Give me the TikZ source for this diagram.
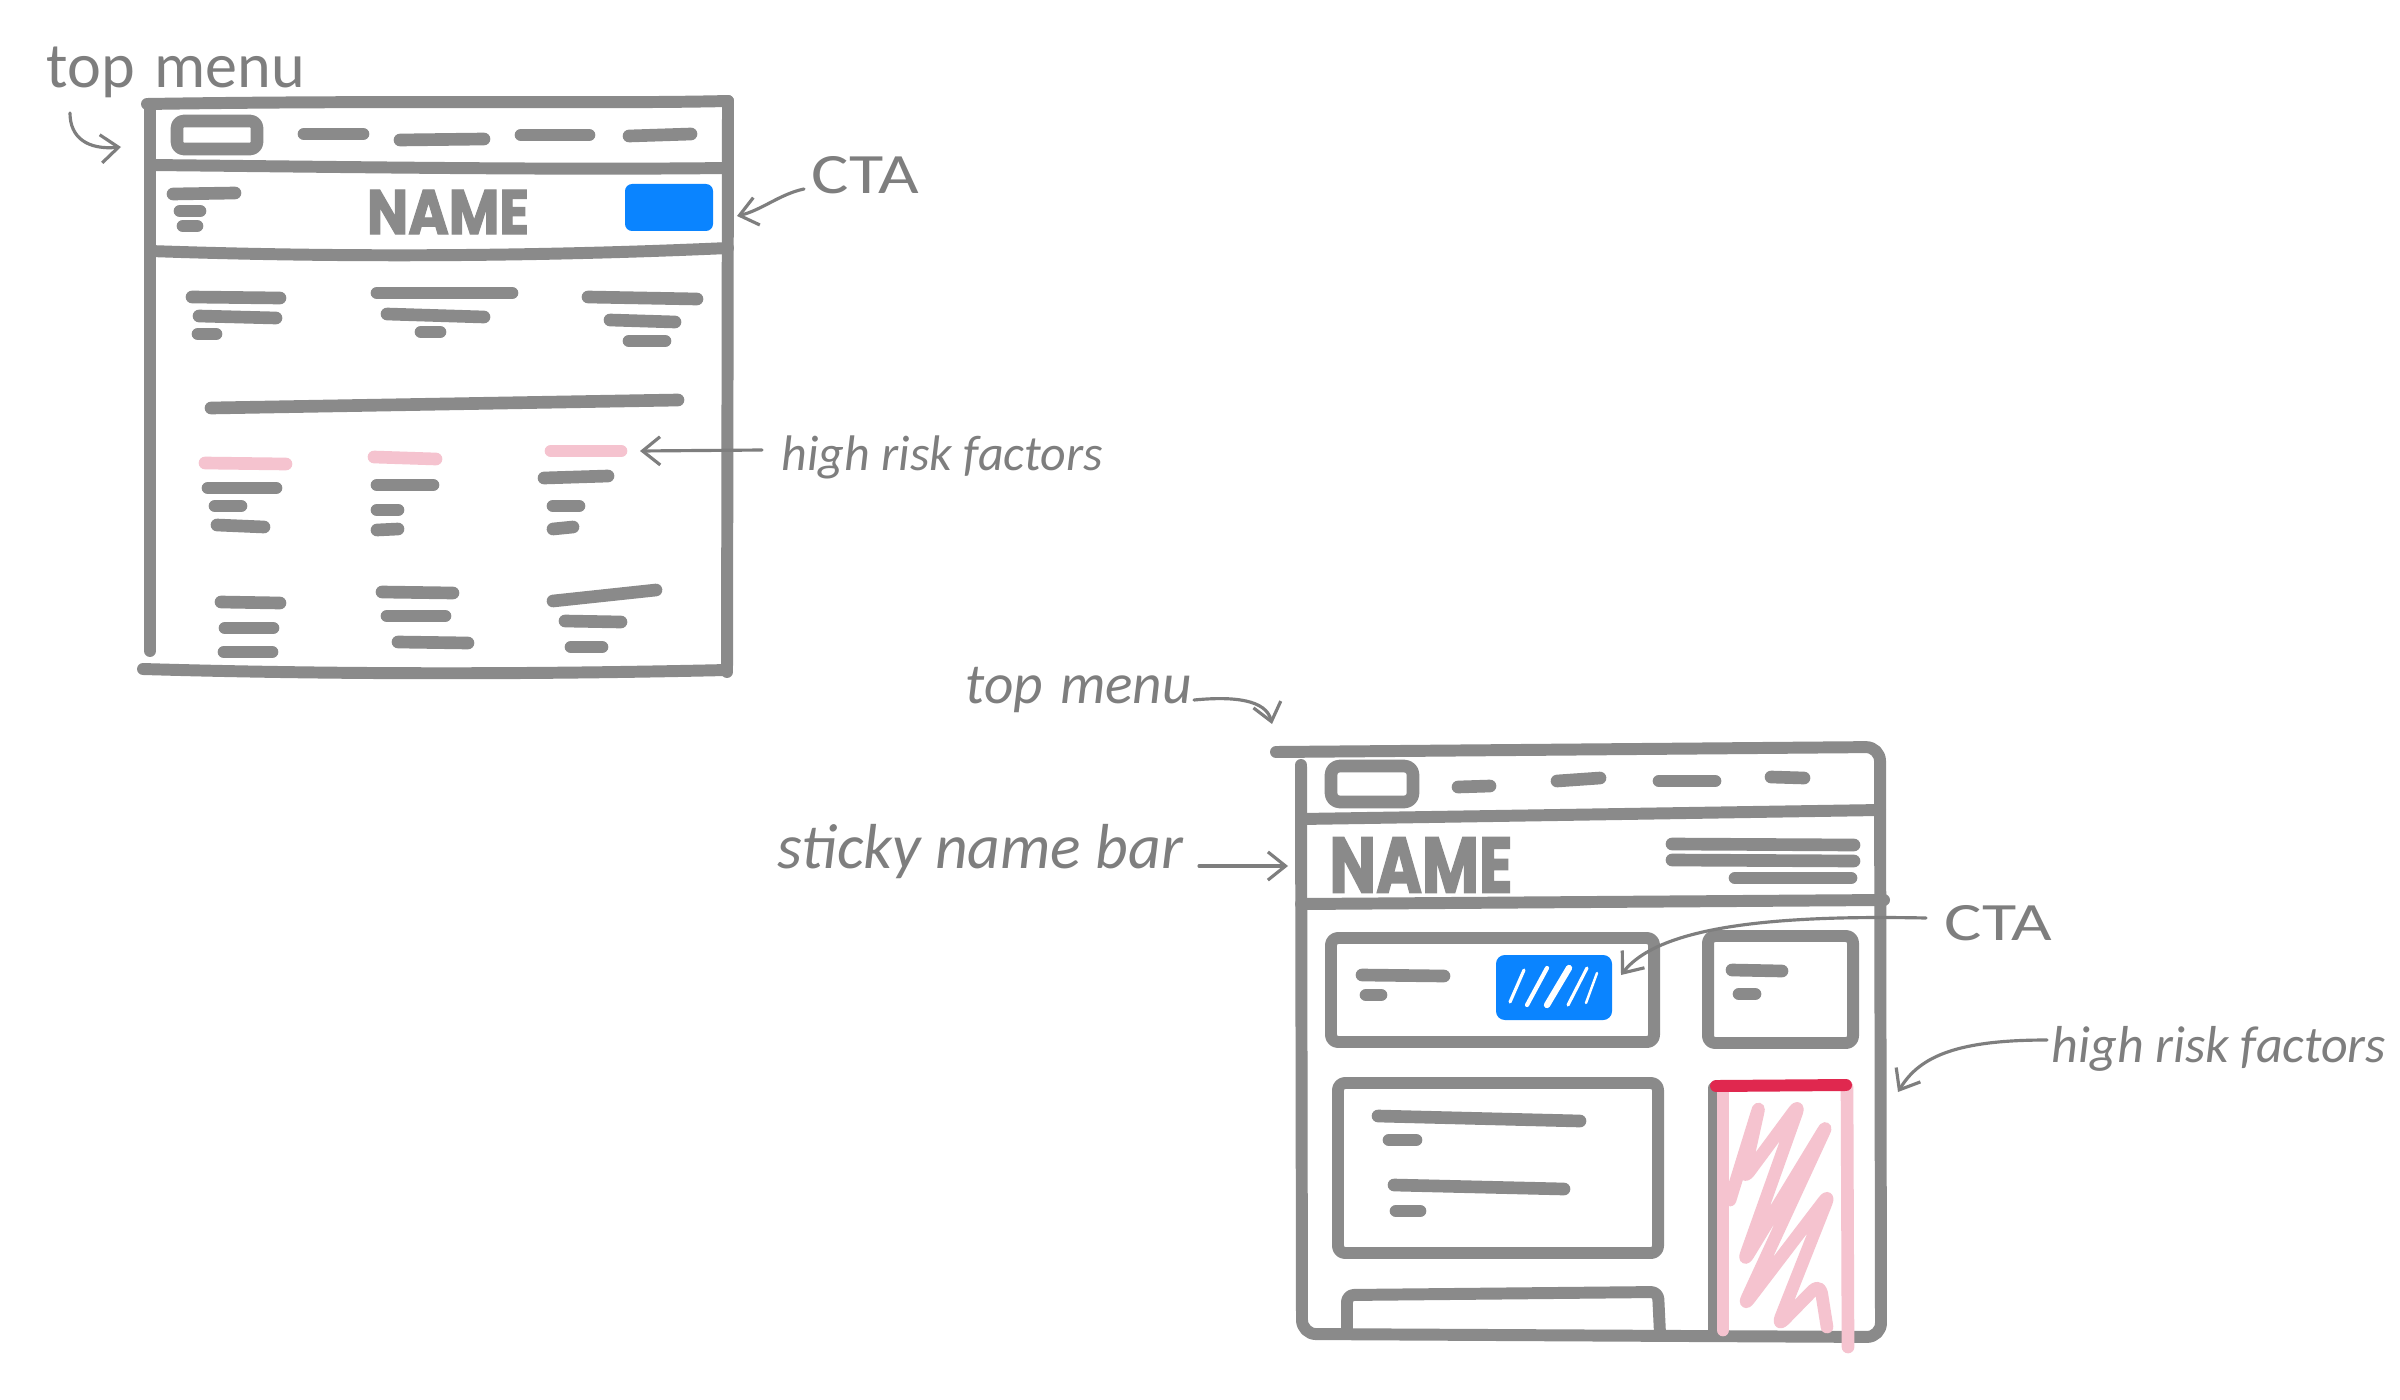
\documentclass[tikz,border=0pt]{standalone}
\usepackage{fontspec}
\newfontfamily\hand{Carlito}
\newfontfamily\namefont{Poppins}[BoldFeatures={FakeBold=2}]
\usetikzlibrary{arrows.meta}
\definecolor{wire}{HTML}{8A8A8A}
\definecolor{ink}{HTML}{7E7E7E}
\definecolor{cta}{HTML}{0A84FF}
\definecolor{pinkx}{HTML}{F5C3CF}
\definecolor{redx}{HTML}{E0284F}
\begin{document}
\begin{tikzpicture}[x=0.01cm,y=-0.01cm,
  frame/.style={draw=wire,line width=3.4pt,line cap=round,line join=round},
  bar/.style={draw=wire,line width=3.6pt,line cap=round},
  pinkbar/.style={draw=pinkx,line width=3.6pt,line cap=round},
  lbl/.style={text=ink,inner sep=0pt,anchor=base west},
  pointer/.style={draw=ink,line width=0.9pt,line cap=round,-{Straight Barb[length=5pt,width=8pt]}},
  namelbl/.style={text=wire,inner sep=0pt}
]
\fill[white] (0,0) rectangle (2400,1400);
\useasboundingbox (0,0) rectangle (2400,1400);

% ================= LEFT WIREFRAME =================
\draw[frame] (147,104) .. controls (400,100) and (600,104) .. (728,101);
\draw[frame] (728,101) -- (727,672);
\draw[frame] (150,104) -- (150,651);
\draw[frame] (143,669) .. controls (350,675) and (550,674) .. (727,670);
\draw[frame] (150,165) .. controls (350,167) and (550,170) .. (728,168);
\draw[frame] (150,251) .. controls (350,258) and (550,256) .. (728,248);
% menu
\draw[frame,line width=3.6pt,rounded corners=2pt] (177,121) rectangle (257,149);
\draw[bar] (304,134) -- (363,134);
\draw[bar] (400,140) -- (484,139);
\draw[bar] (521,135) -- (589,135);
\draw[bar] (629,136) -- (691,134);
% name bar
\draw[bar] (173,194) -- (235,193);
\draw[bar] (180,211) -- (200,211);
\draw[bar] (183,226) -- (197,226);
\node[namelbl] (nameL) at (448,212) {\resizebox{1.62cm}{0.44cm}{\namefont\bfseries NAME}};
\fill[cta,rounded corners=2pt] (625,184) rectangle (713,231);
% row 1
\draw[bar] (192,297) -- (280,298);
\draw[bar] (199,316) -- (276,318);
\draw[bar] (198,334) -- (216,334);
\draw[bar] (377,293) -- (512,293);
\draw[bar] (387,314) -- (484,317);
\draw[bar] (421,332) -- (440,332);
\draw[bar] (588,297) -- (697,299);
\draw[bar] (610,320) -- (675,322);
\draw[bar] (629,341) -- (665,341);
% long line
\draw[bar] (211,408) -- (678,400);
% pink high-risk bars
\draw[pinkbar] (205,463) -- (286,464);
\draw[pinkbar] (374,457) -- (436,459);
\draw[pinkbar] (551,451) -- (621,451);
% under pink
\draw[bar] (208,488) -- (276,488);
\draw[bar] (215,506) -- (241,506);
\draw[bar] (217,525) -- (264,527);
\draw[bar] (377,485) -- (433,485);
\draw[bar] (377,510) -- (398,510);
\draw[bar] (377,530) -- (398,529);
\draw[bar] (544,478) -- (608,476);
\draw[bar] (553,506) -- (579,506);
\draw[bar] (553,529) -- (573,527);
% row 3
\draw[bar] (221,602) -- (280,603);
\draw[bar] (225,628) -- (273,628);
\draw[bar] (224,652) -- (272,652);
\draw[bar] (382,592) -- (453,593);
\draw[bar] (387,616) -- (445,616);
\draw[bar] (398,642) -- (468,643);
\draw[bar] (553,601) -- (656,590);
\draw[bar] (565,621) -- (621,622);
\draw[bar] (571,647) -- (602,647);

% labels left
\node[lbl] (tmL) at (46,88) {\resizebox{2.58cm}{!}{\hand top\hspace{0.3em}menu}};
\coordinate (tmLs) at (70,113);
\coordinate (tmLe) at (121,147);
\draw[pointer] (tmLs) .. controls (70,138) and (88,150) .. (tmLe);
\node[lbl] (ctaL) at (811,194) {\resizebox{1.07cm}{0.37cm}{\hand CTA}};
\coordinate (ctaLs) at (804,189);
\coordinate (ctaLe) at (737,216);
\draw[pointer] (ctaLs) .. controls (780,194) and (762,210) .. (ctaLe);
\node[lbl] (hrL) at (781,470) {\resizebox{3.21cm}{!}{\hand\itshape high risk factors}};
\coordinate (hrLs) at (762,450);
\coordinate (hrLe) at (640,451);
\draw[pointer] (hrLs) -- (hrLe);

% ================= RIGHT WIREFRAME =================
\draw[frame,rounded corners=4pt] (1276,752) -- (1880,747) -- (1881,1337) -- (1302,1334) -- (1301,765);
\draw[frame] (1301,819) -- (1880,810);
\draw[frame] (1301,904) -- (1884,900);
% menu
\draw[frame,line width=3.6pt,rounded corners=2.5pt] (1331,766) rectangle (1413,802);
\draw[bar] (1458,787) -- (1490,786);
\draw[bar] (1557,781) -- (1600,778);
\draw[bar] (1659,781) -- (1715,781);
\draw[bar] (1771,777) -- (1804,778);
% name bar
\node[namelbl] (nameR) at (1421,865) {\resizebox{1.83cm}{0.55cm}{\namefont\bfseries NAME}};
\draw[bar] (1672,844) -- (1854,845);
\draw[bar] (1672,860) -- (1854,861);
\draw[bar] (1735,878) -- (1851,878);
% box A
\draw[frame,rounded corners=2pt] (1331,938) rectangle (1654,1042);
\draw[bar] (1362,975) -- (1444,976);
\draw[bar] (1366,995) -- (1381,995);
\fill[cta,rounded corners=2.5pt] (1496,955) rectangle (1612,1020);
\draw[white,line width=0.9pt,line cap=round] (1510,1002) -- (1524,970);
\draw[white,line width=1.2pt,line cap=round] (1527,1005) -- (1547,968);
\draw[white,line width=1.8pt,line cap=round] (1547,1005) -- (1569,968);
\draw[white,line width=0.9pt,line cap=round] (1568,1005) -- (1587,968);
\draw[white,line width=0.7pt,line cap=round] (1586,1003) -- (1597,973);
% box B
\draw[frame,rounded corners=2pt] (1708,936) rectangle (1853,1043);
\draw[bar] (1732,970) -- (1782,971);
\draw[bar] (1739,994) -- (1755,994);
% box C
\draw[frame,rounded corners=2pt] (1338,1083) rectangle (1658,1253);
\draw[bar] (1378,1116) -- (1580,1121);
\draw[bar] (1389,1140) -- (1416,1140);
\draw[bar] (1394,1185) -- (1564,1189);
\draw[bar] (1396,1211) -- (1420,1211);
% box D
\draw[frame,rounded corners=2pt] (1347,1334) -- (1347,1295) -- (1658,1292) -- (1660,1334);
% pink high risk column
\draw[frame] (1714,1088) -- (1714,1334);
\draw[pinkx,line width=3.6pt,line cap=round,line join=round,rounded corners=3pt]
  (1730,1200) -- (1760,1103) -- (1743,1180) -- (1800,1103) -- (1743,1263)
  -- (1828,1123) -- (1743,1307) -- (1830,1193) -- (1777,1327) -- (1820,1283) -- (1827,1327);
\draw[pinkbar] (1723,1093) -- (1723,1330);
\draw[pinkbar] (1847,1087) -- (1848,1347);
\draw[redx,line width=3.4pt,line cap=round] (1716,1086) -- (1846,1085);

% labels right
\node[lbl] (tmR) at (965,703) {\resizebox{2.26cm}{!}{\hand\itshape top\hspace{0.3em}menu}};
\coordinate (tmRs) at (1194,700);
\coordinate (tmRe) at (1272,724);
\draw[pointer] (tmRs) .. controls (1235,696) and (1266,700) .. (tmRe);
\node[lbl] (snb) at (777,868) {\resizebox{4.05cm}{!}{\hand\itshape sticky name bar}};
\coordinate (snbs) at (1199,866);
\coordinate (snbe) at (1288,866);
\draw[pointer] (snbs) -- (snbe);
\node[lbl] (ctaR) at (1944,940) {\resizebox{1.07cm}{0.35cm}{\hand CTA}};
\coordinate (ctaRs) at (1926,918);
\coordinate (ctaRe) at (1621,975);
\draw[pointer] (ctaRs) .. controls (1780,915) and (1660,925) .. (ctaRe);
\node[lbl] (hrR) at (2051,1062) {\resizebox{3.34cm}{!}{\hand\itshape high risk factors}};
\coordinate (hrRs) at (2047,1040);
\coordinate (hrRe) at (1898,1092);
\draw[pointer] (hrRs) .. controls (1960,1040) and (1920,1055) .. (hrRe);
\end{tikzpicture}
\end{document}
